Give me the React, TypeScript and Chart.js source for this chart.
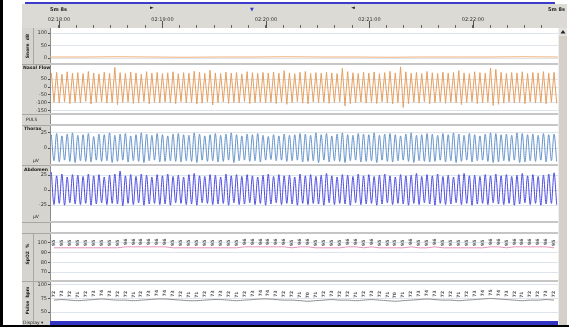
import React, { useEffect, useRef } from "react";
import { Chart, registerables } from "chart.js";

Chart.register(...registerables);

// ---------------- data ----------------
const timeTickLabels = ["02:18:00", "02:19:00", "02:20:00", "02:21:00", "02:22:00"];
const timeTickSeconds = [0, 60, 120, 180, 240];
const minorTickSeconds = [0, 10, 20, 30, 40, 50, 60, 70, 80, 90, 100, 110, 120, 130, 140, 150, 160, 170, 180, 190, 200, 210, 220, 230, 240, 250, 260, 270, 280];
const windowStart = -5.2;
const windowEnd = 289.3;

const soundLevel = [4, 4, 5, 4, 3, 4, 4, 5, 4, 4, 3, 4, 4, 4, 5, 4];

const flowPeaks = [
  88, 92, 80, 95, 86, 90, 84, 97, 88, 82, 93, 86,
  122, 90, 85, 94, 88, 80, 96, 87, 91, 84, 89, 95,
  83, 90, 86, 98, 92, 85, 105, 88, 84, 93, 87, 90,
  82, 96, 89, 85, 91, 87, 94, 86, 102, 88, 83, 92,
  97, 85, 90, 86, 93, 88, 84, 116, 96, 89, 85, 92,
  87, 94, 83, 90, 98, 88, 126, 95, 86, 91, 84, 97,
  89, 85, 93, 87, 90, 102, 88, 84, 95, 90, 86, 119,
  110, 92, 85, 90, 87, 95, 84, 91, 88, 96, 86, 92,
];
const flowTroughs = [
  -95, -100, -92, -104, -97, -99, -90, -106, -96, -93, -101, -98,
  -110, -97, -94, -103, -99, -91, -105, -96, -100, -94, -98, -104,
  -92, -99, -96, -107, -101, -94, -112, -97, -93, -102, -96, -99,
  -91, -104, -98, -95, -100, -96, -103, -95, -108, -97, -92, -101,
  -105, -94, -99, -95, -102, -97, -93, -118, -104, -98, -94, -101,
  -96, -103, -92, -99, -106, -97, -128, -104, -95, -100, -93, -105,
  -98, -94, -102, -96, -99, -110, -97, -93, -104, -99, -95, -115,
  -108, -101, -94, -99, -96, -104, -93, -100, -97, -105, -95, -101,
];

const thoraxPeaks = [
  22, 24, 20, 23, 25, 21, 22, 24, 19, 23, 22, 25,
  21, 23, 24, 20, 22, 25, 23, 21, 24, 22, 20, 23,
  24, 22, 21, 25, 23, 20, 22, 24, 21, 23, 25, 22,
  20, 23, 22, 24, 21, 19, 22, 20, 23, 21, 22, 24,
  23, 21, 25, 22, 24, 20, 23, 25, 22, 21, 24, 23,
  22, 25, 21, 23, 24, 22, 20, 23, 25, 21, 22, 24,
  23, 21, 24, 22, 25, 23, 21, 24, 22, 20, 23, 25,
  24, 22, 23, 21, 25, 24, 22, 23, 21, 24, 22, 23,
];
const thoraxTroughs = [
  -21, -23, -20, -22, -24, -21, -22, -23, -20, -22, -21, -24,
  -22, -20, -23, -21, -22, -24, -21, -20, -23, -22, -21, -22,
  -23, -21, -22, -24, -20, -22, -21, -23, -22, -20, -24, -21,
  -20, -22, -21, -23, -20, -19, -21, -20, -22, -21, -20, -23,
  -22, -21, -24, -20, -23, -21, -22, -24, -21, -20, -23, -22,
  -21, -24, -20, -22, -23, -21, -20, -22, -24, -21, -22, -23,
  -22, -20, -23, -21, -24, -22, -20, -23, -21, -20, -22, -24,
  -23, -21, -22, -20, -24, -23, -21, -22, -20, -23, -21, -22,
];

const abdomenPeaks = [
  30, 24, 27, 22, 26, 25, 23, 27, 24, 26, 22, 25,
  27, 32, 24, 26, 23, 27, 25, 22, 26, 24, 27, 23,
  25, 22, 26, 28, 24, 23, 26, 25, 22, 27, 24, 26,
  23, 26, 24, 22, 25, 27, 23, 26, 24, 25, 22, 27,
  24, 26, 23, 25, 28, 24, 22, 26, 25, 23, 27, 24,
  26, 23, 25, 27, 24, 22, 26, 24, 25, 28, 23, 26,
  24, 27, 23, 25, 22, 26, 28, 24, 25, 23, 26, 24,
  27, 24, 26, 23, 25, 28, 24, 26, 23, 25, 27, 29,
];
const abdomenTroughs = [
  -24, -22, -25, -21, -23, -24, -22, -25, -23, -21, -24, -22,
  -23, -26, -22, -24, -21, -25, -23, -22, -24, -23, -25, -21,
  -22, -24, -23, -25, -21, -22, -24, -23, -22, -25, -21, -24,
  -23, -21, -24, -22, -25, -23, -21, -24, -22, -23, -25, -22,
  -24, -22, -23, -25, -21, -24, -22, -23, -25, -21, -24, -23,
  -22, -25, -23, -21, -24, -22, -23, -25, -22, -24, -21, -23,
  -25, -22, -24, -23, -21, -24, -22, -25, -23, -22, -24, -21,
  -23, -24, -22, -25, -23, -21, -24, -22, -25, -23, -22, -24,
];

const spo2Values = [
  95, 95, 95, 95, 95, 95, 95, 95, 95, 96, 96, 96, 96, 96, 96, 95,
  95, 95, 95, 95, 95, 95, 95, 95, 96, 96, 96, 96, 96, 96, 95, 96,
  96, 95, 95, 95, 95, 96, 96, 95, 96, 95, 95, 95, 95, 96, 95, 95,
  96, 95, 95, 95, 95, 95, 95, 96, 96, 95, 96, 96, 96, 96, 96, 95,
];
const pulseValues = [
  72, 73, 72, 71, 72, 73, 74, 73, 72, 72, 71, 72, 73, 74, 74, 73,
  72, 71, 71, 72, 73, 73, 72, 71, 72, 73, 74, 74, 73, 72, 72, 71,
  70, 71, 72, 73, 72, 72, 71, 72, 73, 72, 71, 70, 71, 72, 73, 74,
  73, 72, 72, 71, 72, 73, 74, 75, 74, 73, 72, 71, 72, 72, 73, 72,
];

const soundTicks = [0, 50, 100];
const flowTicks = [-150, -100, -50, 0, 50];
const thoraxTicks = [0, 25];
const abdomenTicks = [-25, 0, 25];
const spo2Ticks = [70, 80, 90, 100];
const pulseTicks = [50, 75, 100];

// ---------------- helpers ----------------
const W = 569;
const H = 327;
const FONT = '"DejaVu Sans", "Liberation Sans", sans-serif';

function wave(peaks: number[], troughs: number[]) {
  const step = (windowEnd - windowStart) / peaks.length;
  const pts: { x: number; y: number }[] = [];
  peaks.forEach((pk, i) => {
    pts.push({ x: windowStart + (i + 0.25) * step, y: pk });
    pts.push({ x: windowStart + (i + 0.75) * step, y: troughs[i] });
  });
  return pts;
}
function centered(values: number[]) {
  const step = (windowEnd - windowStart) / values.length;
  return values.map((v, i) => ({ x: windowStart + (i + 0.5) * step, y: v }));
}
function spanning(values: number[]) {
  const step = (windowEnd - windowStart) / (values.length - 1);
  return values.map((v, i) => ({ x: windowStart + i * step, y: v }));
}

const panels = [
  { id: "ySound", weight: 36, min: -24, max: 120, ticks: soundTicks },
  { id: "yFlow", weight: 50, min: -169, max: 144, ticks: flowTicks },
  { id: "yAux", weight: 11, min: 0, max: 1, ticks: [] as number[] },
  { id: "yThorax", weight: 40, min: -28, max: 38, ticks: thoraxTicks },
  { id: "yAbd", weight: 57, min: -53, max: 42, ticks: abdomenTicks },
  { id: "yGap", weight: 11, min: 0, max: 1, ticks: [] as number[] },
  { id: "ySpo2", weight: 48, min: 60.7, max: 110.3, ticks: spo2Ticks },
  { id: "yPulse", weight: 39, min: 35.2, max: 107.4, ticks: pulseTicks },
];

const chromePlugin = {
  id: "psgChrome",
  beforeDraw(chart: any) {
    const ctx = chart.ctx;
    const ca = chart.chartArea;
    ctx.save();
    ctx.fillStyle = "#ffffff";
    ctx.fillRect(0, 0, W, H);
    ctx.fillStyle = "#dbdad5";
    ctx.fillRect(22, 4, 567 - 22, ca.top - 4);
    ctx.fillStyle = "#d6d4ce";
    ctx.fillRect(22, ca.top, ca.left - 22, H - 2 - ca.top);
    ctx.restore();
  },
  afterDraw(chart: any) {
    const ctx = chart.ctx;
    const ca = chart.chartArea;
    const s = chart.scales;
    ctx.save();

    for (let i = 0; i < panels.length - 1; i++) {
      const y = Math.round(s[panels[i].id].bottom);
      ctx.fillStyle = "#c6c6c6";
      ctx.fillRect(ca.left, y - 1, ca.right - ca.left, 2);
      ctx.fillStyle = "#a9a7a1";
      ctx.fillRect(22, y, ca.left - 22, 1);
    }
    ctx.fillStyle = "#a9a7a1";
    ["ySound", "ySpo2", "yPulse"].forEach((id) => {
      ctx.fillRect(33, s[id].top, 1, s[id].bottom - s[id].top);
    });

    ctx.fillStyle = "#222";
    ctx.font = "bold 5px " + FONT;
    ctx.textBaseline = "middle";
    ctx.textAlign = "left";
    ctx.fillText("5m 8s", 50, 10);
    ctx.fillText("5m 8s", 548, 10);
    ctx.font = "5px " + FONT;
    ctx.textAlign = "center";
    ctx.fillText("\u25BA", 152, 8);
    ctx.fillText("\u25C4", 353, 8);
    ctx.fillStyle = "#3a3ac8";
    ctx.fillText("\u25BC", 252, 10);

    ctx.fillStyle = "#555";
    timeTickSeconds.forEach((v) => {
      const x = Math.round(s.x.getPixelForValue(v));
      ctx.fillRect(x, 21, 1, ca.top - 21);
    });

    ctx.fillStyle = "#222";
    ctx.font = "bold 4.5px " + FONT;
    ctx.textAlign = "left";
    ctx.textBaseline = "middle";
    ctx.fillText("Nasal Flow", 23, s.yFlow.top + 4);
    ctx.fillText("Thorax", 24, s.yThorax.top + 3.5);
    ctx.fillText("Abdomen", 24, s.yAbd.top + 5);
    ctx.font = "4.5px " + FONT;
    ctx.fillText("PULS", 26, (s.yAux.top + s.yAux.bottom) / 2);
    ctx.fillText("\u00B5V", 33, s.yThorax.bottom - 4);
    ctx.fillText("\u00B5V", 33, s.yAbd.bottom - 5);
    ctx.fillText("Display \u25BE", 23, 323);

    const rotated = (text: string, x: number, y: number) => {
      ctx.save();
      ctx.translate(x, y);
      ctx.rotate(-Math.PI / 2);
      ctx.textAlign = "center";
      ctx.textBaseline = "middle";
      ctx.fillText(text, 0, 0);
      ctx.restore();
    };
    ctx.font = "bold 4.5px " + FONT;
    rotated("Snore  dB", 28, (s.ySound.top + s.ySound.bottom) / 2);
    rotated("SpO2  %", 28, (s.ySpo2.top + s.ySpo2.bottom) / 2 - 3);
    rotated("Pulse  bpm", 28, (s.yPulse.top + s.yPulse.bottom) / 2);

    ctx.font = "bold 4.5px " + FONT;
    ctx.fillStyle = "#555";
    const metaS = chart.getDatasetMeta(4);
    metaS.data.forEach((pt: any, i: number) => {
      rotated(String(spo2Values[i]), pt.x, pt.y - 5);
    });
    const metaP = chart.getDatasetMeta(5);
    metaP.data.forEach((pt: any, i: number) => {
      rotated(String(pulseValues[i]), pt.x, pt.y - 6);
    });

    ctx.fillStyle = "#3434c4";
    ctx.fillRect(ca.left, ca.bottom + 1, ca.right - ca.left, 4);
    ctx.fillStyle = "#d4d0c8";
    ctx.fillRect(ca.right, ca.top, 9, H - 2 - ca.top);
    ctx.fillStyle = "#efefef";
    ctx.fillRect(ca.right, ca.top, 1, H - 2 - ca.top);
    ctx.fillStyle = "#e4e2dc";
    ctx.fillRect(ca.right + 1, ca.top, 8, 8);
    ctx.fillStyle = "#222";
    ctx.beginPath();
    ctx.moveTo(ca.right + 5, ca.top + 2);
    ctx.lineTo(ca.right + 7.5, ca.top + 5.5);
    ctx.lineTo(ca.right + 2.5, ca.top + 5.5);
    ctx.closePath();
    ctx.fill();

    ctx.fillStyle = "#3b3bcc";
    ctx.fillRect(25, 2, 530, 2);
    ctx.fillStyle = "#000";
    ctx.fillRect(0, 0, 3, H);
    ctx.fillRect(0, H - 2, W, 2);
    ctx.restore();
  },
};

export default function App() {
  const ref = useRef<HTMLCanvasElement | null>(null);

  useEffect(() => {
    if (!ref.current) return;
    const scales: any = {
      x: {
        type: "linear",
        position: "top",
        min: windowStart,
        max: windowEnd,
        afterBuildTicks: (sc: any) => {
          sc.ticks = minorTickSeconds.map((v) => ({ value: v }));
        },
        afterFit: (sc: any) => {
          sc.height = 24;
        },
        ticks: {
          autoSkip: false,
          maxRotation: 0,
          padding: 2,
          color: "#333",
          font: { size: 5, family: FONT },
          callback: (v: any) => {
            const k = timeTickSeconds.indexOf(Number(v));
            return k >= 0 ? timeTickLabels[k] : "";
          },
        },
        grid: { drawOnChartArea: false, tickLength: 3, tickColor: "#666" },
        border: { display: false },
      },
    };
    [...panels].reverse().forEach((p) => {
      scales[p.id] = {
        type: "linear",
        position: "left",
        stack: "psg",
        stackWeight: p.weight,
        min: p.min,
        max: p.max,
        afterBuildTicks: (sc: any) => {
          sc.ticks = p.ticks.map((v) => ({ value: v }));
        },
        afterFit: (sc: any) => {
          sc.width = 28;
        },
        ticks: { autoSkip: false, padding: 1, color: "#333", font: { size: 5, family: FONT } },
        grid: { color: "#dde4ec", tickColor: "#555", tickLength: 2 },
        border: { color: "#8c8c8c" },
      };
    });

    const chart = new Chart(ref.current, {
      type: "line",
      data: {
        datasets: [
          { label: "Snore", data: spanning(soundLevel), yAxisID: "ySound", borderColor: "#f0b07a", borderWidth: 1, pointRadius: 0 },
          { label: "Nasal Flow", data: wave(flowPeaks, flowTroughs), yAxisID: "yFlow", borderColor: "#e6a060", borderWidth: 1, pointRadius: 0 },
          { label: "Thorax", data: wave(thoraxPeaks, thoraxTroughs), yAxisID: "yThorax", borderColor: "#6592cb", borderWidth: 1, pointRadius: 0, cubicInterpolationMode: "monotone" },
          { label: "Abdomen", data: wave(abdomenPeaks, abdomenTroughs), yAxisID: "yAbd", borderColor: "#4c4ce2", borderWidth: 1, pointRadius: 0, cubicInterpolationMode: "monotone" },
          { label: "SpO2", data: centered(spo2Values), yAxisID: "ySpo2", borderColor: "#e695bd", borderWidth: 1, pointRadius: 0 },
          { label: "Pulse", data: centered(pulseValues), yAxisID: "yPulse", borderColor: "#8e8e8e", borderWidth: 1, pointRadius: 0, tension: 0.4 },
        ],
      } as any,
      options: {
        responsive: false,
        animation: false,
        devicePixelRatio: 1,
        events: [],
        layout: { padding: { left: 22, right: 11, top: 4, bottom: 7 } },
        plugins: { legend: { display: false }, tooltip: { enabled: false } },
        scales,
      } as any,
      plugins: [chromePlugin],
    });
    return () => chart.destroy();
  }, []);

  return (
    <div style={{ position: "fixed", left: 0, top: 0, width: W, height: H, background: "#fff" }}>
      <canvas ref={ref} width={W} height={H} style={{ display: "block" }} />
    </div>
  );
}
